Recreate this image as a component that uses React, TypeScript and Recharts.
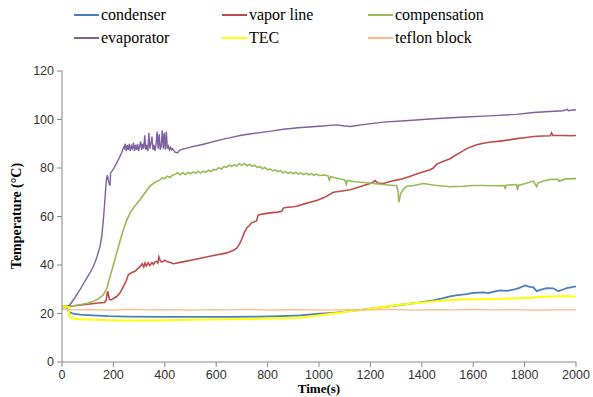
import { LineChart, Line, XAxis, YAxis } from "recharts";

// time (s) / temperature (°C) pairs, one pair of arrays per sensor
const condenserT = [0, 15, 20, 25, 30, 44, 70, 100, 122, 180, 252, 400, 510, 650, 770, 850, 900, 926, 960, 1004, 1056, 1120, 1186, 1250, 1315, 1380, 1445, 1480, 1510, 1540, 1575, 1600, 1639, 1660, 1680, 1704, 1730, 1756, 1780, 1802, 1820, 1834, 1847, 1860, 1886, 1912, 1931, 1950, 1964, 1980, 2000];
const condenserV = [22.5, 22.6, 22.4, 21, 20.5, 19.9, 19.5, 19.3, 19.2, 18.9, 18.7, 18.6, 18.6, 18.6, 18.7, 18.9, 19.1, 19.2, 19.5, 19.9, 20.3, 21, 21.8, 22.6, 23.5, 24.4, 25.4, 26.2, 27.1, 27.6, 28, 28.5, 28.7, 28.4, 29, 29.5, 29.3, 29.8, 30.6, 31.6, 31, 30.8, 29.2, 29.7, 30.5, 30.4, 29.2, 29.9, 30.5, 30.8, 31.2];

const vaporT = [0, 50, 100, 140, 165, 172, 176, 178, 181, 185, 190, 200, 213, 226, 239, 250, 258, 270, 284, 295, 304, 312, 318, 323, 328, 335, 342, 350, 356, 362, 368, 373, 377, 382, 388, 394, 400, 410, 420, 433, 470, 511, 576, 641, 670, 680, 690, 699, 710, 719, 728, 738, 748, 757, 763, 770, 790, 809, 840, 855, 860, 864, 880, 900, 913, 940, 965, 991, 1020, 1056, 1090, 1121, 1150, 1186, 1205, 1218, 1230, 1250, 1280, 1315, 1350, 1380, 1410, 1432, 1445, 1458, 1480, 1510, 1540, 1575, 1610, 1639, 1670, 1704, 1740, 1769, 1800, 1834, 1870, 1900, 1905, 1910, 1951, 1980, 2000];
const vaporV = [23, 23.2, 23.8, 24.3, 24.5, 25.5, 28.5, 29.2, 27.5, 25.8, 25.6, 26.2, 27, 28.5, 31.2, 33.5, 36, 36.8, 37.4, 38.5, 39.4, 40.5, 39.2, 40.8, 39.6, 40.9, 39.8, 41, 40.2, 41.3, 41.5, 40.8, 43.3, 41.8, 41.2, 41.5, 42, 41.3, 41.1, 40.5, 41.3, 42.2, 43.6, 45, 46.2, 47, 48.5, 50.5, 53.5, 55.3, 56.2, 57.4, 57.8, 58.2, 60.5, 60.8, 61.2, 61.5, 61.8, 62.1, 63.2, 63.6, 63.8, 64, 64.2, 65.1, 65.9, 66.6, 67.8, 70, 70.5, 71, 72, 73.2, 73.8, 74.8, 73.8, 73.6, 74.5, 75.3, 76.4, 77.5, 78.6, 79.3, 80, 81.6, 82.6, 83.8, 85.8, 88, 89.5, 90.2, 90.7, 91.1, 91.6, 92.1, 92.5, 93, 93.2, 93.3, 94.5, 93.4, 93.4, 93.3, 93.4];

const compensationT = [0, 30, 70, 100, 122, 140, 161, 175, 187, 200, 213, 226, 239, 252, 265, 285, 304, 323, 342, 360, 380, 390, 400, 410, 420, 430, 440, 450, 460, 470, 480, 490, 500, 510, 520, 530, 540, 550, 560, 570, 580, 590, 600, 610, 620, 630, 640, 650, 660, 670, 680, 690, 700, 710, 720, 730, 740, 750, 760, 770, 780, 790, 800, 810, 820, 830, 840, 850, 860, 870, 880, 890, 900, 910, 920, 930, 940, 950, 960, 970, 980, 990, 1000, 1020, 1036, 1040, 1046, 1070, 1100, 1106, 1110, 1140, 1186, 1230, 1289, 1302, 1308, 1311, 1318, 1328, 1341, 1370, 1406, 1450, 1510, 1560, 1600, 1639, 1680, 1722, 1725, 1728, 1769, 1772, 1776, 1800, 1834, 1847, 1852, 1870, 1899, 1930, 1934, 1960, 2000];
const compensationV = [22.8, 23, 23.6, 24.2, 25, 26, 27.7, 30.5, 35.3, 40, 45, 50, 54.6, 58.5, 61.5, 64.5, 67, 69.8, 72.5, 74, 75, 75.9, 75.6, 76.6, 76.1, 77, 77.4, 78.1, 77.2, 78, 77.3, 78.2, 77.6, 78.4, 77.8, 78.6, 78, 78.7, 78.2, 79.1, 78.5, 79.4, 79.2, 80.1, 79.6, 80.6, 80.3, 81.2, 80.6, 81.4, 80.8, 81.8, 81.1, 81.9, 80.9, 81.5, 80.7, 81.2, 80.2, 80.6, 79.7, 80.2, 79.2, 79.6, 78.8, 79.2, 78.5, 78.9, 78, 78.5, 77.8, 78.3, 77.6, 78.2, 77.5, 78, 77.3, 77.9, 77.2, 77.7, 77, 77.5, 76.9, 77.1, 76.7, 75, 76.4, 75.8, 75.1, 73.3, 74.9, 74.3, 73.9, 73.4, 72.8, 72.8, 70, 65.9, 69.5, 71.2, 72.5, 72.8, 73.6, 72.9, 72.3, 72.5, 72.8, 72.8, 72.7, 72.8, 71.3, 72.9, 73.2, 70.9, 72.8, 73.5, 74.6, 72.3, 73.8, 74.5, 75.3, 75.3, 74.5, 75.5, 75.6];

const evaporatorT = [0, 20, 31, 50, 70, 90, 110, 122, 135, 148, 155, 161, 165, 168, 171, 174, 177, 180, 184, 187, 189, 193, 200, 206, 215, 226, 233, 239, 242, 246, 250, 254, 258, 262, 266, 270, 274, 278, 282, 286, 290, 294, 298, 302, 306, 310, 314, 318, 322, 326, 330, 334, 338, 342, 346, 350, 354, 358, 362, 366, 370, 374, 378, 382, 386, 390, 394, 398, 402, 406, 410, 414, 418, 422, 426, 430, 440, 450, 460, 500, 550, 615, 650, 693, 730, 770, 820, 861, 920, 1000, 1069, 1100, 1121, 1180, 1250, 1350, 1445, 1550, 1639, 1700, 1769, 1834, 1900, 1950, 1966, 1970, 1980, 2000];
const evaporatorV = [22.6, 22.8, 23.6, 26.5, 29.8, 33.5, 37, 39.4, 43, 47.7, 52, 58.7, 64, 68.4, 73, 76, 77, 75, 73.5, 72.8, 78, 78.5, 79.5, 80.8, 82.5, 84.9, 86.5, 88.5, 88, 90, 87, 89.5, 87.5, 90, 87, 89, 88, 90.5, 87, 89.5, 87.5, 90, 87, 89, 91, 87.5, 90, 88, 93.5, 87.5, 89.5, 87, 94.5, 88, 90, 93, 87.5, 89.5, 87, 90, 95, 88, 94, 87.5, 89, 95.5, 88, 94.5, 87.5, 95, 88, 89, 87.5, 88.5, 87.5, 88, 86.5, 86.3, 87.5, 88.6, 89.8, 91.6, 92.4, 93.4, 94, 94.6, 95.3, 96, 96.6, 97.2, 97.8, 97.3, 97.1, 98, 98.9, 99.6, 100.3, 100.9, 101.4, 101.7, 102.1, 102.9, 103.3, 103.6, 104.2, 103.6, 103.8, 104];

const tecT = [0, 20, 26, 28, 44, 70, 122, 200, 252, 400, 510, 650, 770, 850, 900, 926, 960, 1000, 1056, 1120, 1186, 1250, 1315, 1380, 1445, 1510, 1560, 1620, 1704, 1770, 1834, 1900, 1964, 2000];
const tecV = [22.8, 22.9, 22.7, 18.7, 17.9, 17.6, 17.4, 17.2, 17.1, 17.2, 17.4, 17.6, 17.8, 18, 18.1, 18.2, 18.7, 19.3, 20, 20.9, 21.8, 22.7, 23.6, 24.3, 25, 25.6, 25.8, 25.9, 26, 26.3, 26.6, 27, 27.2, 26.9];

const teflonT = [0, 40, 120, 200, 260, 330, 420, 500, 580, 650, 720, 800, 880, 960, 1040, 1120, 1200, 1280, 1360, 1440, 1520, 1600, 1680, 1760, 1840, 1920, 2000];
const teflonV = [21.8, 21.5, 21.6, 21.4, 21.7, 21.5, 21.6, 21.4, 21.6, 21.5, 21.7, 21.4, 21.6, 21.5, 21.4, 21.6, 21.5, 21.7, 21.4, 21.6, 21.5, 21.7, 21.5, 21.6, 21.4, 21.5, 21.5];

const xTicks = [0, 200, 400, 600, 800, 1000, 1200, 1400, 1600, 1800, 2000];
const yTicks = [0, 20, 40, 60, 80, 100, 120];

const toPoints = (t: number[], v: number[]) => t.map((x, i) => ({ t: x, v: v[i] }));

const series = [
  { name: "condenser", color: "#4A7EBB", width: 1.8, data: toPoints(condenserT, condenserV) },
  { name: "vapor line", color: "#BE4B48", width: 1.6, data: toPoints(vaporT, vaporV) },
  { name: "compensation", color: "#98B954", width: 1.6, data: toPoints(compensationT, compensationV) },
  { name: "evaporator", color: "#7D60A0", width: 1.4, data: toPoints(evaporatorT, evaporatorV) },
  { name: "TEC", color: "#FFFF00", width: 2, data: toPoints(tecT, tecV) },
  { name: "teflon block", color: "#F9B98C", width: 1.2, data: toPoints(teflonT, teflonV) },
];

const legendCols = [74, 222, 368];
const legendRows = [15, 38];

export default function App() {
  return (
    <div style={{ position: "relative", width: 593, height: 397, overflow: "hidden", background: "#fff" }}>
      <style>{`body{margin:0}`}</style>
      <LineChart width={593} height={397} margin={{ top: 71, right: 17, bottom: 0, left: 0 }}>
        <XAxis
          dataKey="t"
          type="number"
          domain={[0, 2000]}
          ticks={xTicks}
          height={35}
          stroke="#888"
          tickSize={5}
          tickMargin={3}
          tick={{ fill: "#333", fontSize: 12.5, fontFamily: "Liberation Sans" }}
        />
        <YAxis
          type="number"
          domain={[0, 120]}
          ticks={yTicks}
          width={62}
          stroke="#888"
          tickSize={5}
          tickMargin={3}
          tick={{ fill: "#333", fontSize: 12.5, fontFamily: "Liberation Sans" }}
        />
        {series.map((s) => (
          <Line
            key={s.name}
            data={s.data}
            dataKey="v"
            type="linear"
            stroke={s.color}
            strokeWidth={s.width}
            dot={false}
            activeDot={false}
            isAnimationActive={false}
          />
        ))}
      </LineChart>

      {series.map((s, i) => (
        <div
          key={s.name}
          style={{
            position: "absolute",
            left: legendCols[i % 3],
            top: legendRows[Math.floor(i / 3)] - 10,
            height: 20,
            display: "flex",
            alignItems: "center",
            font: '16px "Liberation Serif"',
            color: "#000",
            whiteSpace: "nowrap",
          }}
        >
          <span style={{ display: "inline-block", width: 25, height: 2, background: s.color, marginRight: 2 }} />
          {s.name}
        </div>
      ))}

      <div
        style={{
          position: "absolute",
          left: 17,
          top: 216,
          transform: "translate(-50%, -50%) rotate(-90deg)",
          font: 'bold 14px "Liberation Serif"',
          whiteSpace: "nowrap",
        }}
      >
        Temperature (°C)
      </div>
      <div
        style={{
          position: "absolute",
          left: 319,
          top: 381,
          transform: "translateX(-50%)",
          font: 'bold 13px "Liberation Serif"',
          lineHeight: "15px",
          whiteSpace: "nowrap",
        }}
      >
        Time(s)
      </div>
    </div>
  );
}
